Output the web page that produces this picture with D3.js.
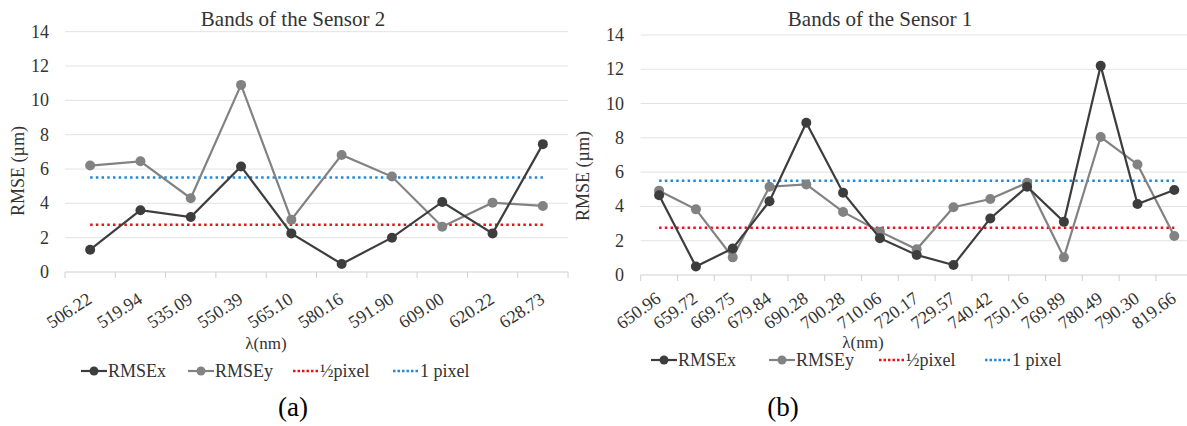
<!DOCTYPE html>
<html>
<head>
<meta charset="utf-8">
<script src="https://cdn.jsdelivr.net/npm/d3@7"></script>
<style>
  body { margin: 0; background: #fff; }
</style>
</head>
<body>
<div id="chart"></div>
<script>
// band wavelengths (nm)
var bands2 = ['506.22','519.94','535.09','550.39','565.10','580.16','591.90','609.00','620.22','628.73'];
var bands1 = ['650.96','659.72','669.75','679.84','690.28','700.28','710.06','720.17','729.57','740.42','750.16','769.89','780.49','790.30','819.66'];

// RMSE values (µm)
var rmsex2 = [1.3, 3.6, 3.2, 6.15, 2.25, 0.47, 2.0, 4.08, 2.25, 7.45];
var rmsey2 = [6.2, 6.45, 4.3, 10.9, 3.05, 6.82, 5.56, 2.64, 4.04, 3.85];
var rmsex1 = [4.65, 0.5, 1.55, 4.3, 8.88, 4.8, 2.15, 1.17, 0.58, 3.3, 5.15, 3.1, 12.2, 4.14, 4.96];
var rmsey1 = [4.92, 3.83, 1.03, 5.15, 5.28, 3.68, 2.53, 1.5, 3.95, 4.43, 5.38, 1.03, 8.05, 6.45, 2.28];

var halfPixel = 2.75, onePixel = 5.5;
var yTicks = [0, 2, 4, 6, 8, 10, 12, 14];

var colX = '#3d3d3d', colY = '#828282', colRed = '#e3121b', colBlue = '#1f88d8';
var serif = '"Liberation Serif"';

var svg = d3.select('#chart').append('svg')
  .attr('width', 1187)
  .attr('height', 426);

function txt(sel, size) {
  return sel.style('font-family', serif).style('font-size', size + 'px').attr('fill', '#333');
}

function drawChart(opt) {
  var g = svg.append('g');

  var x = d3.scaleBand().domain(opt.cats).range([opt.left, opt.right]);
  var y = d3.scaleLinear().domain([0, 14]).range([opt.bottom, opt.top]);

  // gridlines
  g.selectAll('line.grid')
    .data(yTicks)
    .enter().append('line')
    .attr('class', 'grid')
    .attr('x1', opt.left).attr('x2', opt.right)
    .attr('y1', d => y(d)).attr('y2', d => y(d))
    .attr('stroke', d => d === 0 ? '#d0d0d0' : '#e2e2e2')
    .attr('stroke-width', 1);

  // category tick marks
  var edges = opt.cats.map(d => x(d)).concat([opt.right]);
  g.selectAll('line.tick')
    .data(edges)
    .enter().append('line')
    .attr('x1', d => d).attr('x2', d => d)
    .attr('y1', opt.bottom).attr('y2', opt.bottom + 6)
    .attr('stroke', '#d0d0d0');

  // y labels
  txt(g.selectAll('text.ylab')
    .data(yTicks)
    .enter().append('text')
    .attr('x', opt.ylabX)
    .attr('y', d => y(d) + 6)
    .attr('text-anchor', 'end')
    .text(d => d), 18);

  // x labels (rotated)
  txt(g.selectAll('text.xlab')
    .data(opt.cats)
    .enter().append('text')
    .attr('text-anchor', 'end')
    .attr('transform', d => 'translate(' + (x(d) + x.bandwidth() / 2 + 3) + ',' + (opt.bottom + opt.xlabDy) + ')rotate(' + opt.xlabRot + ')')
    .text(d => d), 18);

  // reference lines
  var cx = d => x(d) + x.bandwidth() / 2;
  var first = cx(opt.cats[0]), last = cx(opt.cats[opt.cats.length - 1]);
  [[halfPixel, colRed], [onePixel, colBlue]].forEach(function(r) {
    g.append('line')
      .attr('x1', first).attr('x2', last)
      .attr('y1', y(r[0])).attr('y2', y(r[0]))
      .attr('stroke', r[1])
      .attr('stroke-width', 2.5)
      .attr('stroke-dasharray', '2.5,3.2');
  });

  var line = d3.line()
    .x((d, i) => cx(opt.cats[i]))
    .y(d => y(d));

  [[opt.ys, colY], [opt.xs, colX]].forEach(function(s) {
    g.append('path')
      .datum(s[0])
      .attr('d', line)
      .attr('fill', 'none')
      .attr('stroke', s[1])
      .attr('stroke-width', 2.2);
    g.selectAll(null)
      .data(s[0])
      .enter().append('circle')
      .attr('cx', (d, i) => cx(opt.cats[i]))
      .attr('cy', d => y(d))
      .attr('r', 5)
      .attr('fill', s[1]);
  });

  // title
  txt(g.append('text')
    .attr('x', opt.titleX).attr('y', 26)
    .attr('text-anchor', 'middle')
    .text(opt.title), 21);

  // y axis title
  txt(g.append('text')
    .attr('transform', 'translate(' + opt.yTitleX + ',' + opt.yTitleY + ')rotate(-90)')
    .attr('text-anchor', 'middle')
    .text('RMSE (µm)'), 18);

  // x axis title
  txt(g.append('text')
    .attr('x', opt.xTitleX).attr('y', opt.xTitleY)
    .attr('text-anchor', 'middle')
    .text('λ(nm)'), 17);

  // legend
  var leg = g.append('g').attr('transform', 'translate(0,' + opt.legY + ')');
  var items = [
    { name: 'RMSEx', color: colX, type: 'line' },
    { name: 'RMSEy', color: colY, type: 'line' },
    { name: '½pixel', color: colRed, type: 'dot' },
    { name: '1 pixel', color: colBlue, type: 'dot' }
  ];
  items.forEach(function(it, i) {
    var x0 = opt.legX[i];
    if (it.type === 'line') {
      leg.append('line')
        .attr('x1', x0).attr('x2', x0 + 26)
        .attr('y1', 0).attr('y2', 0)
        .attr('stroke', it.color).attr('stroke-width', 2.2);
      leg.append('circle')
        .attr('cx', x0 + 13).attr('cy', 0).attr('r', 4.5)
        .attr('fill', it.color);
    } else {
      leg.append('line')
        .attr('x1', x0).attr('x2', x0 + 26)
        .attr('y1', 0).attr('y2', 0)
        .attr('stroke', it.color).attr('stroke-width', 2.5)
        .attr('stroke-dasharray', '2.5,2');
    }
    txt(leg.append('text')
      .attr('x', x0 + 27).attr('y', 6)
      .text(it.name), 18);
  });

  // panel letter
  txt(g.append('text')
    .attr('x', opt.letterX).attr('y', 416)
    .attr('text-anchor', 'middle')
    .text(opt.letter), 27).attr('fill', '#000');
}

drawChart({
  cats: bands2, xs: rmsex2, ys: rmsey2,
  left: 65, right: 568, top: 31.7, bottom: 272,
  ylabX: 49, xlabDy: 30, xlabRot: -33,
  title: 'Bands of the Sensor 2', titleX: 293,
  yTitleX: 24, yTitleY: 171,
  xTitleX: 266, xTitleY: 349,
  legY: 371, legX: [81, 188, 293, 393],
  letterX: 293, letter: '(a)'
});

drawChart({
  cats: bands1, xs: rmsex1, ys: rmsey1,
  left: 640.7, right: 1192.7, top: 35, bottom: 275,
  ylabX: 624, xlabDy: 26, xlabRot: -36,
  title: 'Bands of the Sensor 1', titleX: 880,
  yTitleX: 589, yTitleY: 176,
  xTitleX: 863, xTitleY: 348,
  legY: 360, legX: [651, 769, 879, 985],
  letterX: 783, letter: '(b)'
});
</script>
</body>
</html>
